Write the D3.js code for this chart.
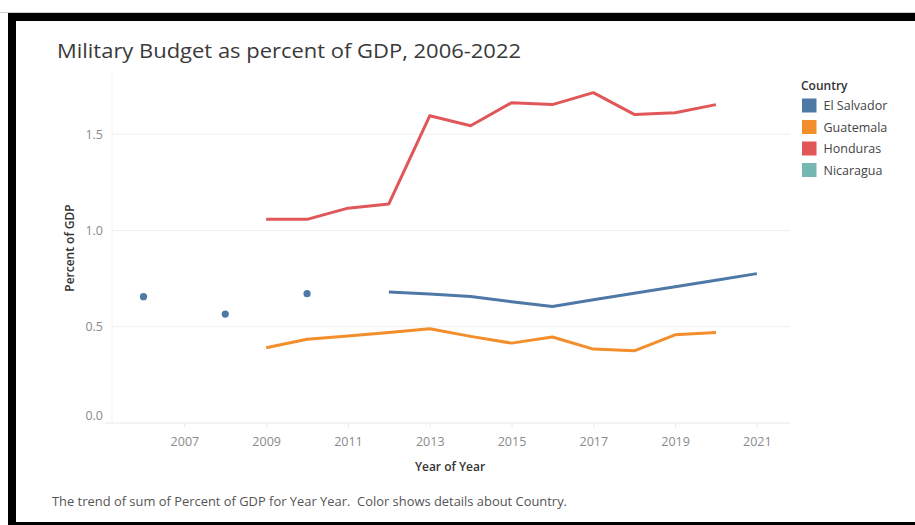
<!DOCTYPE html>
<html>
<head>
<meta charset="utf-8">
<script src="https://cdn.jsdelivr.net/npm/d3@7"></script>
<style>
  html, body { margin: 0; padding: 0; background: #fff; }
  svg { display: block; }
  text { font-family: "Open Sans", "Noto Sans", sans-serif; }
</style>
</head>
<body>
<svg id="chart" width="915" height="525"></svg>
<script>
// Military budget as a share of GDP (percent), by country and year
const countries = ["El Salvador", "Guatemala", "Honduras", "Nicaragua"];
const colors = ["#4e79a7", "#f28e2b", "#e15759", "#76b7b2"];

const years = [2006, 2007, 2008, 2009, 2010, 2011, 2012, 2013, 2014, 2015, 2016, 2017, 2018, 2019, 2020, 2021];
// null = no value reported for that year
const elSalvador = [0.656, null, 0.566, null, 0.672, null, 0.681, 0.67, 0.657, 0.63, 0.605, 0.64, 0.674, 0.708, 0.742, 0.776];
const guatemala  = [null, null, null, 0.391, 0.435, 0.452, 0.47, 0.49, 0.45, 0.415, 0.447, 0.384, 0.375, 0.458, 0.47, null];
const honduras   = [null, null, null, 1.058, 1.058, 1.116, 1.138, 1.596, 1.544, 1.664, 1.654, 1.716, 1.603, 1.612, 1.654, null];
const nicaragua  = [];

const yTicks = [0.0, 0.5, 1.0, 1.5];
const xTicks = [2007, 2009, 2011, 2013, 2015, 2017, 2019, 2021];

const titleText = "Military Budget as percent of GDP, 2006-2022";
const footerText = "The trend of sum of Percent of GDP for Year Year.  Color shows details about Country.";
const yTitle = "Percent of GDP";
const xTitle = "Year of Year";
const legendTitle = "Country";

const seriesValues = [elSalvador, guatemala, honduras, nicaragua];

const svg = d3.select("#chart");
const W = 915, H = 525;

// Page frame
svg.append("rect").attr("width", W).attr("height", H).attr("fill", "#fff");
svg.append("rect").attr("x", 0).attr("y", 12).attr("width", W).attr("height", 1).attr("fill", "#cfcfcf");
svg.append("rect").attr("x", 8).attr("y", 13).attr("width", W - 8).attr("height", 8).attr("fill", "#000");
svg.append("rect").attr("x", 8).attr("y", 13).attr("width", 8).attr("height", H - 13).attr("fill", "#000");
svg.append("rect").attr("x", 8).attr("y", 522).attr("width", W - 8).attr("height", 3).attr("fill", "#000");

// Plot area
const plot = { left: 112, right: 790, top: 72, bottom: 423 };

const x = d3.scaleLinear().domain([2005.23, 2021.81]).range([plot.left, plot.right]);
const y = d3.scaleLinear().domain([0, 1.8234]).range([plot.bottom, plot.top]);

// Title
svg.append("text")
  .attr("x", 57).attr("y", 58)
  .attr("font-size", 20.5)
  .attr("fill", "#3a3a3a")
  .attr("textLength", 464).attr("lengthAdjust", "spacingAndGlyphs")
  .text(titleText);

// Horizontal gridlines
svg.append("g")
  .selectAll("line")
  .data(yTicks.filter(d => d > 0))
  .join("line")
  .attr("x1", plot.left).attr("x2", plot.right)
  .attr("y1", d => y(d)).attr("y2", d => y(d))
  .attr("stroke", "#efefef").attr("stroke-width", 1);

// Left border of the pane
svg.append("line")
  .attr("x1", plot.left).attr("x2", plot.left)
  .attr("y1", plot.top).attr("y2", plot.bottom)
  .attr("stroke", "#f2f2f2").attr("stroke-width", 1);

// Y axis
const yAxis = d3.axisLeft(y).tickValues(yTicks).tickFormat(d3.format(".1f")).tickSize(0).tickPadding(9);
const gy = svg.append("g").attr("transform", `translate(${plot.left},0)`).call(yAxis);
gy.select(".domain").remove();
gy.selectAll("text")
  .attr("font-size", 12.5)
  .attr("fill", "#8a8a8a")
  .attr("font-family", "'Open Sans', sans-serif")
  .attr("dy", d => d === 0 ? "-0.25em" : "0.32em");

// X axis
const xAxis = d3.axisBottom(x).tickValues(xTicks).tickFormat(d3.format("d")).tickSize(4).tickPadding(10);
const gx = svg.append("g").attr("transform", `translate(0,${plot.bottom})`).call(xAxis);
gx.select(".domain").remove();
gx.selectAll(".tick line").attr("stroke", "#e6e6e6");
gx.selectAll("text")
  .attr("font-size", 12.5)
  .attr("fill", "#8a8a8a")
  .attr("font-family", "'Open Sans', sans-serif");
svg.append("line")
  .attr("x1", 105).attr("x2", plot.right)
  .attr("y1", plot.bottom).attr("y2", plot.bottom)
  .attr("stroke", "#e8e8e8").attr("stroke-width", 1);

// Axis titles
svg.append("text")
  .attr("transform", `translate(74,${(203 + 293) / 2}) rotate(-90)`)
  .attr("text-anchor", "middle")
  .attr("font-size", 12)
  .attr("font-weight", 600)
  .attr("fill", "#333")
  .text(yTitle);

svg.append("text")
  .attr("x", 450).attr("y", 471)
  .attr("text-anchor", "middle")
  .attr("font-size", 12)
  .attr("font-weight", 600)
  .attr("fill", "#333")
  .text(xTitle);

// Series: lines across consecutive years, dots for isolated values
const line = d3.line()
  .defined(d => d.v != null)
  .x(d => x(d.year))
  .y(d => y(d.v));

const series = countries.map((name, i) => ({
  name,
  color: colors[i],
  points: years.map((yr, j) => ({ year: yr, v: seriesValues[i][j] === undefined ? null : seriesValues[i][j] }))
}));

const marks = svg.append("g");
series.forEach(s => {
  marks.append("path")
    .datum(s.points)
    .attr("d", line)
    .attr("fill", "none")
    .attr("stroke", s.color)
    .attr("stroke-width", 3)
    .attr("stroke-linejoin", "round");

  const isolated = s.points.filter((p, j, arr) =>
    p.v != null &&
    (j === 0 || arr[j - 1].v == null) &&
    (j === arr.length - 1 || arr[j + 1].v == null));
  marks.selectAll(null)
    .data(isolated)
    .join("circle")
    .attr("cx", d => x(d.year))
    .attr("cy", d => y(d.v))
    .attr("r", 3.6)
    .attr("fill", s.color);
});

// Legend
const legend = svg.append("g");
legend.append("text")
  .attr("x", 801).attr("y", 90)
  .attr("font-size", 12)
  .attr("font-weight", 600)
  .attr("fill", "#333")
  .text(legendTitle);
const items = legend.selectAll("g.item")
  .data(countries)
  .join("g")
  .attr("class", "item")
  .attr("transform", (d, i) => `translate(802,${98.5 + i * 21.5})`);
items.append("rect")
  .attr("width", 14.5).attr("height", 14)
  .attr("fill", (d, i) => colors[i]);
items.append("text")
  .attr("x", 21.5).attr("y", 11.5)
  .attr("font-size", 12.5)
  .attr("fill", "#444")
  .text(d => d);

// Caption (keeps the double space between sentences)
svg.append("text")
  .attr("x", 52).attr("y", 506)
  .attr("font-size", 12)
  .attr("fill", "#555")
  .style("white-space", "pre")
  .attr("textLength", 515).attr("lengthAdjust", "spacingAndGlyphs")
  .text(footerText);
</script>
</body>
</html>
